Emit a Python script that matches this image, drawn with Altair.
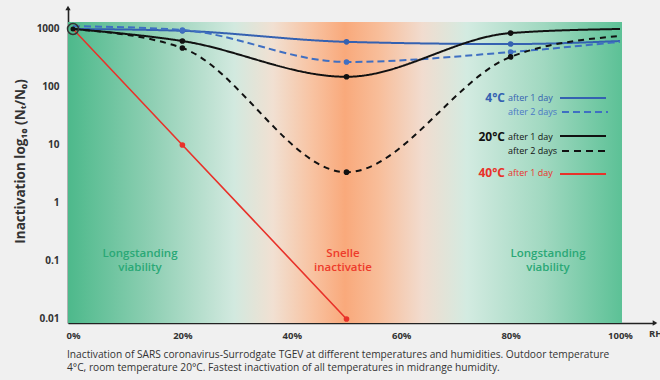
import altair as alt
import pandas as pd

# ---------------- data ----------------
rh = [0, 20, 50, 80, 100]
c4_day1 = [1000, 930, 600, 550, 620]
c4_day2 = [1120, 960, 270, 400, 600]
c20_day1 = [1000, 620, 150, 850, 1000]
c20_day2 = [1000, 470, 3.4, 330, 760]
rh40 = [0, 20, 50]
c40_day1 = [1000, 10, 0.01]

series = ["4°C after 1 day", "4°C after 2 days", "20°C after 1 day",
          "20°C after 2 days", "40°C after 1 day"]
line_colors = ["#3461b1", "#3f6fc2", "#111111", "#111111", "#e8322a"]
point_colors = ["#3461b1", "#3461b1", "#111111", "#111111", "#c8102e"]
dashes = [[1, 0], [7, 4], [1, 0], [6, 5], [1, 0]]

x_ticks = [0, 20, 40, 60, 80, 100]
y_ticks = [0.01, 0.1, 1, 10, 100, 1000]
caption = ["Inactivation of SARS coronavirus-Surrodgate TGEV at different temperatures and humidities. Outdoor temperature",
           "4°C, room temperature 20°C. Fastest inactivation of all temperatures in midrange humidity."]

rows = []
for name, xs, ys in [(series[0], rh, c4_day1), (series[1], rh, c4_day2),
                     (series[2], rh, c20_day1), (series[3], rh, c20_day2),
                     (series[4], rh40, c40_day1)]:
    for xv, yv in zip(xs, ys):
        rows.append({"series": name, "rh": xv, "val": yv})
df = pd.DataFrame(rows)

W, H = 587, 315
FONT = "Open Sans"

xscale = alt.Scale(domain=[-0.914, 106.4], nice=False, zero=False)
yscale = alt.Scale(type="log", domain=[0.00853, 2300], nice=False)
cscale = alt.Scale(domain=series, range=line_colors)
pscale = alt.Scale(domain=series, range=point_colors)
dscale = alt.Scale(domain=series, range=dashes)

one = pd.DataFrame({"a": [0]})

gradient = alt.LinearGradient(
    gradient="linear", x1=0, x2=1, y1=0, y2=0,
    stops=[
        alt.GradientStop(color="#4db98b", offset=0.0),
        alt.GradientStop(color="#8ecfb3", offset=0.15),
        alt.GradientStop(color="#d2e9df", offset=0.30),
        alt.GradientStop(color="#f1e0d2", offset=0.37),
        alt.GradientStop(color="#f8c3a2", offset=0.44),
        alt.GradientStop(color="#f9a97b", offset=0.50),
        alt.GradientStop(color="#f8bd99", offset=0.56),
        alt.GradientStop(color="#f1dccf", offset=0.64),
        alt.GradientStop(color="#d3ebe1", offset=0.72),
        alt.GradientStop(color="#a0d8c0", offset=0.86),
        alt.GradientStop(color="#5cc196", offset=1.0),
    ])

bg = alt.Chart(one).mark_rect(color=gradient).encode(
    x=alt.value(0), x2=alt.value(554), y=alt.value(14), y2=alt.value(H))

base = alt.Chart(df).encode(
    x=alt.X("rh:Q", scale=xscale,
            axis=alt.Axis(values=x_ticks, labelExpr="datum.value + '%'", title=None,
                          grid=False, ticks=False, labelPadding=7,
                          labelFont=FONT, labelFontWeight="bold", labelFontSize=9.5,
                          labelColor="#333", domainColor="#222", domainWidth=1.6)),
    y=alt.Y("val:Q", scale=yscale,
            axis=alt.Axis(values=y_ticks, format="~g", grid=False, ticks=False,
                          labelPadding=9, labelFont=FONT, labelFontWeight="bold",
                          labelFontSize=10, labelColor="#333", domainColor="#222",
                          domainWidth=1.6,
                          title="Inactivation  log₁₀ (Nₜ/N₀)", titleFont=FONT,
                          titleFontSize=13.5, titleFontWeight="bold", titleColor="#333",
                          titleX=-48, titleY=153, titleAngle=-90,
                          titleAlign="center", titleBaseline="middle")),
)

curves = base.transform_filter(alt.datum.series != series[4]).mark_line(
    interpolate="monotone", strokeWidth=2).encode(
    color=alt.Color("series:N", scale=cscale, legend=None),
    strokeDash=alt.StrokeDash("series:N", scale=dscale, legend=None),
    detail="series:N")

red = base.transform_filter(alt.datum.series == series[4]).mark_line(
    strokeWidth=1.6, color="#e8322a")

pts = base.transform_filter(alt.datum.rh > 0).transform_filter(alt.datum.rh < 100).mark_point(
    filled=True, size=32, opacity=1).encode(
    color=alt.Color("series:N", scale=pscale, legend=None))

origin_df = df[(df["rh"] == 0) & (df["series"] == series[2])]
origin_ring = alt.Chart(origin_df).mark_point(
    filled=False, size=120, stroke="#333", strokeWidth=1.5, opacity=1).encode(
    x=alt.X("rh:Q", scale=xscale), y=alt.Y("val:Q", scale=yscale))
origin_dot = alt.Chart(origin_df).mark_point(
    filled=True, size=25, color="#111", opacity=1).encode(
    x=alt.X("rh:Q", scale=xscale), y=alt.Y("val:Q", scale=yscale))

# arrows on axes
arrow_up = alt.Chart(one).mark_point(shape="triangle-up", filled=True, size=28,
                                     color="#222", opacity=1).encode(
    x=alt.value(0), y=alt.value(0))
arrow_right = alt.Chart(one).mark_point(shape="triangle-right", filled=True, size=28,
                                        color="#222", opacity=1).encode(
    x=alt.value(W), y=alt.value(H))
rh_label = alt.Chart(one).mark_text(text="RH", font=FONT, fontWeight="bold", fontSize=9.5,
                                    color="#333", align="left", baseline="middle").encode(
    x=alt.value(581), y=alt.value(326))


def txt(text, x, y, color, size, weight="normal", align="left", baseline="middle", lh=14):
    return alt.Chart(one).mark_text(text=text, font=FONT, fontSize=size, fontWeight=weight,
                                    color=color, align=align, baseline=baseline,
                                    lineHeight=lh).encode(x=alt.value(x), y=alt.value(y))


def rule(x1, x2, y, color, dash, width=2.2):
    return alt.Chart(one).mark_rule(color=color, strokeWidth=width, strokeDash=dash).encode(
        x=alt.value(x1), x2=alt.value(x2), y=alt.value(y))


legend = [
    txt("4°C", 437, 90, "#3461b1", 12, "bold", "right"),
    txt("after 1 day", 440, 90, "#3461b1", 9),
    rule(492, 538, 90, "#3461b1", [1, 0]),
    txt("after 2 days", 440, 104, "#4a78c6", 9),
    rule(494, 540, 104, "#3f6fc2", [7, 4]),
    txt("20°C", 437, 129, "#111", 12, "bold", "right"),
    txt("after 1 day", 440, 129, "#111", 9),
    rule(492, 538, 128, "#111", [1, 0]),
    txt("after 2 days", 440, 143, "#111", 9),
    rule(494, 540, 143, "#111", [7, 5]),
    txt("40°C", 437, 165, "#e8322a", 12, "bold", "right"),
    txt("after 1 day", 440, 165, "#e8322a", 9),
    rule(492, 538, 166, "#e8322a", [1, 0]),
]

notes = [
    txt("Longstanding", 72, 246, "#2aa876", 11.5, 600, "center"),
    txt("viability", 72, 260, "#2aa876", 11.5, 600, "center"),
    txt("Snelle", 275, 246, "#ee3b2b", 11.5, 600, "center"),
    txt("inactivatie", 275, 260, "#ee3b2b", 11.5, 600, "center"),
    txt("Longstanding", 480, 246, "#2aa876", 11.5, 600, "center"),
    txt("viability", 480, 260, "#2aa876", 11.5, 600, "center"),
    txt(caption, -1, 347, "#333", 10.2, "normal", "left", lh=13),
]

chart = alt.layer(
    bg, curves, red, pts, origin_ring, origin_dot, arrow_up, arrow_right, rh_label,
    *legend, *notes
).properties(
    width=W, height=H, background="#f0f0f0",
    padding={"left": 68, "top": 8, "right": 5, "bottom": 57},
    autosize=alt.AutoSizeParams(type="none"),
).configure_view(stroke=None)

chart.save("out.html", embed_options={"renderer": "svg", "actions": False})
